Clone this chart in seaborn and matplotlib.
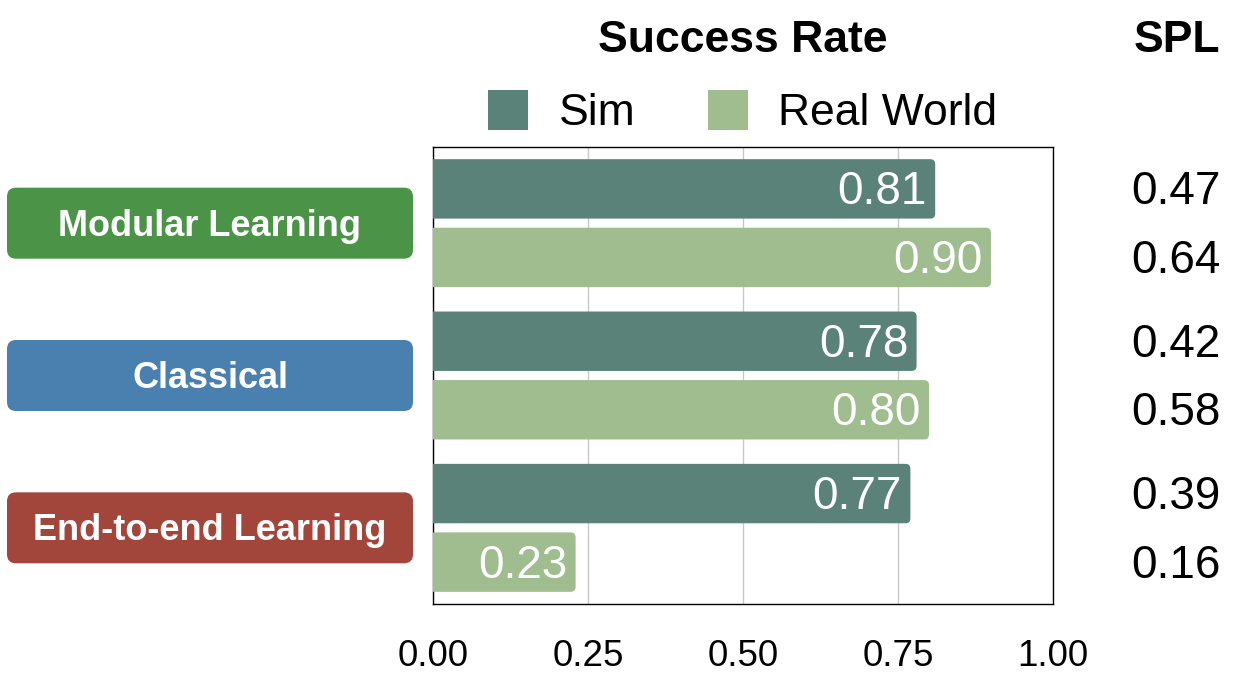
import numpy as np
import pandas as pd
import matplotlib
matplotlib.use("Agg")
import matplotlib.pyplot as plt
import seaborn as sns
from matplotlib.patches import FancyBboxPatch, Patch
from matplotlib.transforms import blended_transform_factory

# ---- data ----
methods = ["Modular Learning", "Classical", "End-to-end Learning"]
series = ["Sim", "Real World"]
sim_sr = [0.81, 0.78, 0.77]
real_sr = [0.90, 0.80, 0.23]
sim_spl = [0.47, 0.42, 0.39]
real_spl = [0.64, 0.58, 0.16]
xticks = [0.0, 0.25, 0.5, 0.75, 1.0]
xtick_labels = ["0.00", "0.25", "0.50", "0.75", "1.00"]

method_colors = ["#4b9447", "#4a80b0", "#a2463c"]
bar_colors = ["#5a8278", "#9fbd8f"]

df = pd.DataFrame({
    "method": methods * 2,
    "series": [series[0]] * len(methods) + [series[1]] * len(methods),
    "sr": sim_sr + real_sr,
})
spl_by_series = [sim_spl, real_spl]

sns.set_style("white")
plt.rcParams["font.family"] = ["Liberation Sans", "DejaVu Sans"]
plt.rcParams["text.color"] = "black"
plt.rcParams["xtick.color"] = "black"
plt.rcParams["xtick.labelcolor"] = "black"

W, H = 1236, 682
fig = plt.figure(figsize=(W / 100, H / 100), dpi=100)
ax = fig.add_axes([433 / W, 1 - 604 / H, 620 / W, 457 / H])

sns.barplot(data=df, y="method", x="sr", hue="series", order=methods,
            hue_order=series, palette=bar_colors, width=0.9, orient="h",
            saturation=1, legend=False, ax=ax)

ax.set_xlim(0, 1)
ax.set_ylim(2.5, -0.5)
ax.set_xlabel("")
ax.set_ylabel("")
ax.set_xticks(xticks)
ax.set_xticklabels(xtick_labels, fontsize=26.5, color="black")
ax.tick_params(axis="x", length=0, pad=25)
ax.set_yticks(range(len(methods)))
ax.set_yticklabels([])
ax.tick_params(axis="y", length=0)
ax.xaxis.grid(True, color="#c8c8c8", linewidth=1)
ax.set_axisbelow(True)
for sp in ax.spines.values():
    sp.set_visible(True)
    sp.set_color("black")
    sp.set_linewidth(1)

# rounding geometry
ax_w_px = 620
ax_h_px = 457
x_per_px = 1.0 / ax_w_px
y_per_px = 3.0 / ax_h_px
aspect = y_per_px / x_per_px
r_px = 5

bar_h = 0.39
trans_spl = blended_transform_factory(ax.transAxes, ax.transData)
for k, cont in enumerate(ax.containers):
    color = bar_colors[k]
    for j, bar in enumerate(cont):
        x0 = bar.get_x()
        w = bar.get_width()
        yc = bar.get_y() + bar.get_height() / 2
        bar.set_visible(False)
        ext = 0.02
        fb = FancyBboxPatch((x0 - ext, yc - bar_h / 2), w + ext, bar_h,
                            boxstyle=f"round,pad=0,rounding_size={r_px * x_per_px}",
                            mutation_aspect=aspect, facecolor=color,
                            edgecolor="none", zorder=3)
        ax.add_patch(fb)
        ax.annotate(f"{w:.2f}", xy=(w, yc), xytext=(-6, -2.5),
                    textcoords="offset points", ha="right", va="center",
                    color="white", fontsize=33, zorder=4)
        ax.annotate(f"{spl_by_series[k][j]:.2f}", xy=((1176 - 433) / 620, yc),
                    xycoords=trans_spl, xytext=(0, -2.5),
                    textcoords="offset points", ha="center", va="center",
                    fontsize=33, color="black", annotation_clip=False)

# left category boxes
inv = fig.transFigure.inverted()
for j, m in enumerate(methods):
    disp = ax.transData.transform((0, j))
    fy = inv.transform(disp)[1]
    box = FancyBboxPatch((7 / W, fy - 35.5 / H), 406 / W, 71 / H,
                         boxstyle=f"round,pad=0,rounding_size={9 / W}",
                         mutation_aspect=W / H, transform=fig.transFigure,
                         facecolor=method_colors[j], edgecolor="none")
    fig.add_artist(box)
    fig.text(210 / W, fy - 3 / H, m, ha="center", va="center", fontsize=26,
             fontweight="bold", color="white")

# titles
fig.text(743 / W, 1 - 40 / H, "Success Rate", ha="center", va="center",
         fontsize=32, fontweight="bold", color="black")
fig.text(1177 / W, 1 - 40 / H, "SPL", ha="center", va="center",
         fontsize=32, fontweight="bold", color="black")

# legend
handles = [Patch(facecolor=c, edgecolor="none") for c in bar_colors]
fig.legend(handles, series, loc="center", bbox_to_anchor=(743 / W, 1 - 112 / H),
           ncol=2, frameon=False, fontsize=32, handlelength=0.9,
           handleheight=1.0, handletextpad=0.68, columnspacing=1.64,
           labelcolor="black")

fig.savefig("out.png", dpi=100)
